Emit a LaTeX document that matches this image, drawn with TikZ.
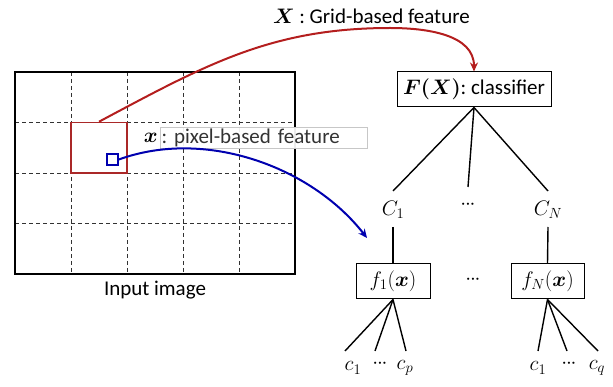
\RequirePackage{fix-cm}
\documentclass[tikz,border=0pt]{standalone}
\usepackage{amsmath}
\usepackage{fontspec}
\setmainfont{Carlito}
\usetikzlibrary{arrows.meta}
\frenchspacing
\definecolor{gridred}{RGB}{180,30,30}
\definecolor{boxred}{RGB}{170,40,40}
\definecolor{pixblue}{RGB}{0,0,175}
\definecolor{dashgray}{RGB}{50,50,50}
% compact row of three dots
\newcommand{\tightdots}{${\cdot}\mkern-1mu{\cdot}\mkern-1mu{\cdot}$}
\begin{document}
\begin{tikzpicture}[x=1pt,y=-1pt,
  font=\fontsize{21}{25}\selectfont,
  every node/.style={inner sep=0pt},
  boxnode/.style={draw, line width=1pt, fill=white},
  branch/.style={line width=1.4pt},
  gridline/.style={dashed, dash pattern=on 4pt off 3pt, line width=0.9pt, draw=dashgray},
  redcurve/.style={draw=gridred, line width=2pt, -{Stealth[length=9pt,width=8pt]}},
  bluecurve/.style={draw=pixblue, line width=2pt, -{Stealth[length=9pt,width=8pt]}}]

\useasboundingbox (0,0) rectangle (613,387);

% input image with its 5x4 grid
\foreach \gx in {71,127,183,239}
  \draw[gridline] (\gx,72) -- (\gx,274);
\foreach \gy in {122.5,173,223.5}
  \draw[gridline] (15,\gy) -- (295,\gy);
\node[draw, line width=1.6pt, minimum width=280pt, minimum height=202pt] (img) at (155,173) {};
\node (imgcap) at (155,290) {Input image};

% grid cell and pixel
\node[draw=boxred, line width=1.6pt, minimum width=56pt, minimum height=50.5pt] (cell) at (99,147.75) {};
\node[draw=pixblue, line width=1.6pt, minimum width=11pt, minimum height=11pt] (pix) at (112.5,159.5) {};

% pixel feature label
\node[draw=black!22, fill=white, fill opacity=0.92, text opacity=1, text=black!80,
      minimum width=207pt, minimum height=19pt, text width=204pt, align=left, inner sep=1.5pt]
      (pixlbl) at (263.5,137.5) {: pixel-based feature};
\node[anchor=east] (xsym) at ([xshift=-2pt]pixlbl.west) {$\boldsymbol{x}$};

% grid feature label
\node[anchor=east] (gridlbl) at (470,16) {$\boldsymbol{X}$ : Grid-based feature};

% classifier tree
\node[boxnode, minimum width=154pt, minimum height=35pt] (F) at (474,89.5)
  {$\boldsymbol{F(X)}$: classifier};
\node (C1) at (393,210) {$C_1$};
\node (Cdots) at (468,205) {\tightdots};
\node (CN) at (548,210) {$C_N$};
\coordinate (C1top) at (393,191);
\coordinate (Cmid) at (468,187);
\coordinate (CNtop) at (548,191);
\draw[branch] (F.south) -- (C1top);
\draw[branch] (F.south) -- (Cmid);
\draw[branch] (F.south) -- (CNtop);

\node[boxnode, minimum width=74pt, minimum height=35pt] (f1) at (393,281.5) {$f_1(\boldsymbol{x})$};
\node[boxnode, minimum width=73pt, minimum height=35pt] (fN) at (547.5,281.5) {$f_N(\boldsymbol{x})$};
\node (fdots) at (473,280) {\tightdots};
\coordinate (C1bot) at (393,227);
\coordinate (CNbot) at (548,227);
\draw[branch] (C1bot) -- (f1.north);
\draw[branch] (CNbot) -- (fN.north);

% leaves under f_1
\node (a1) at (353,368) {$c_1$};
\node (adots) at (380,364) {\tightdots};
\node (ap) at (405,368) {$c_p$};
\coordinate (l1) at (345,351);
\coordinate (l2) at (375,351);
\coordinate (l3) at (406,351);
\foreach \e in {l1,l2,l3} \draw[branch] (f1.south) -- (\e);

% leaves under f_N
\node (b1) at (538,368) {$c_1$};
\node (bdots) at (569,364) {\tightdots};
\node (bq) at (597,368) {$c_q$};
\coordinate (r1) at (538,351);
\coordinate (r2) at (567,351);
\coordinate (r3) at (598,351);
\foreach \e in {r1,r2,r3} \draw[branch] (fN.south) -- (\e);

% feature arrows
\draw[redcurve] (cell.north) to[out=28,in=180] (390,28) to[out=0,in=90] (F.north);
\coordinate (fin) at (367,238);
\draw[bluecurve] (pix.east) to[out=20,in=128,looseness=0.9] (fin);
\end{tikzpicture}
\end{document}
